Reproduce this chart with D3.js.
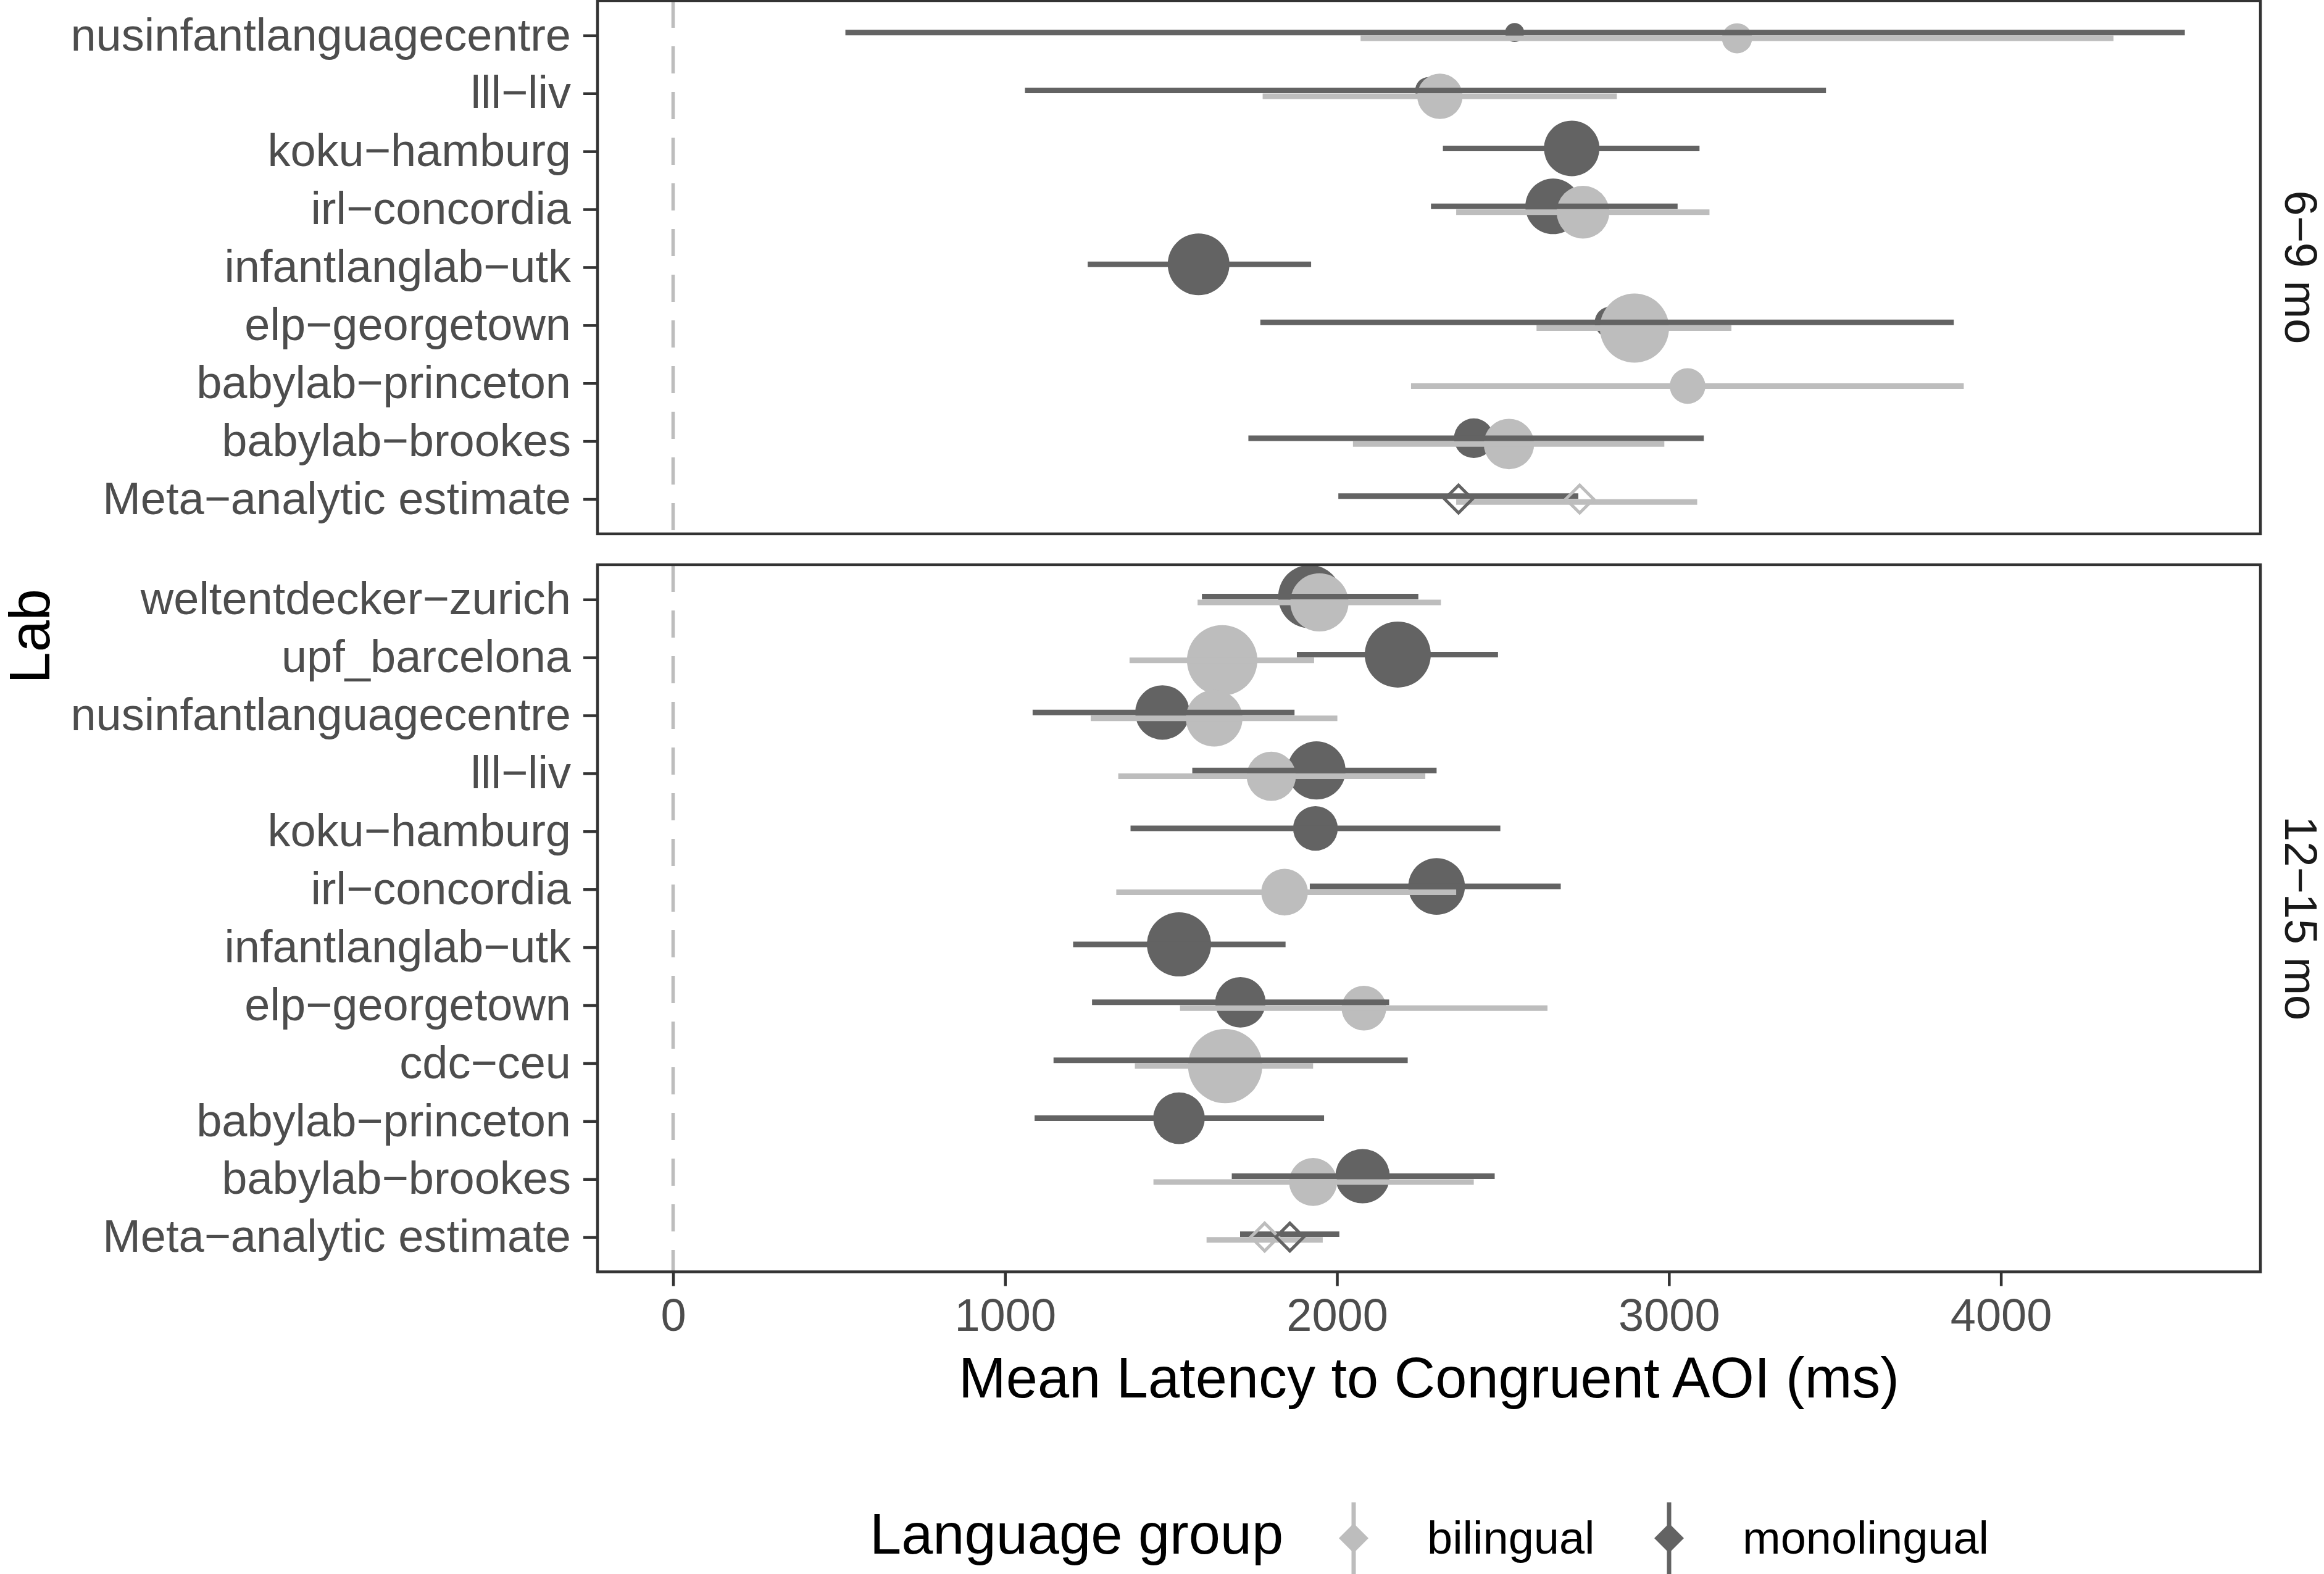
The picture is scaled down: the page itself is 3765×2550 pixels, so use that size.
<!DOCTYPE html>
<html>
<head>
<meta charset="utf-8">
<script src="https://cdn.jsdelivr.net/npm/d3@7"></script>
<style>
  body { margin: 0; background: #fff; }
  svg { display: block; font-family: "Liberation Sans", Arial, Helvetica, sans-serif; }
</style>
</head>
<body>
<svg id="chart"></svg>
<script>
// ---- data ----
const groups = ["bilingual", "monolingual"];
const ageGroups = ["6\u22129 mo", "12\u221215 mo"];

const labs69 = ["nusinfantlanguagecentre", "lll\u2212liv", "koku\u2212hamburg", "irl\u2212concordia",
  "infantlanglab\u2212utk", "elp\u2212georgetown", "babylab\u2212princeton", "babylab\u2212brookes",
  "Meta\u2212analytic estimate"];
const mono69Est = [2535, 2276, 2707, 2651, 1583, 2823, null, 2412, 2366];
const mono69Lo  = [519, 1060, 2319, 2283, 1249, 1769, null, 1733, 2004];
const mono69Hi  = [4554, 3473, 3092, 3026, 1922, 3858, null, 3105, 2727];
const mono69N   = [6, 12, 51, 51, 63, 16, null, 26, null];
const bi69Est = [3205, 2310, null, 2741, null, 2896, 3056, 2518, 2731];
const bi69Lo  = [2071, 1776, null, 2359, null, 2601, 2223, 2048, 2359];
const bi69Hi  = [4339, 2843, null, 3122, null, 3188, 3888, 2986, 3085];
const bi69N   = [15, 34, null, 46, null, 79, 21, 42, null];

const labs1215 = ["weltentdecker\u2212zurich", "upf_barcelona", "nusinfantlanguagecentre", "lll\u2212liv",
  "koku\u2212hamburg", "irl\u2212concordia", "infantlanglab\u2212utk", "elp\u2212georgetown", "cdc\u2212ceu",
  "babylab\u2212princeton", "babylab\u2212brookes", "Meta\u2212analytic estimate"];
const mono1215Est = [1918, 2183, 1474, 1938, 1935, 2300, 1524, 1709, 1680, 1524, 2077, 1858];
const mono1215Lo  = [1593, 1879, 1083, 1564, 1378, 1918, 1205, 1262, 1146, 1089, 1683, 1708];
const mono1215Hi  = [2245, 2485, 1872, 2300, 2492, 2674, 1845, 2157, 2213, 1961, 2475, 2007];
const mono1215N   = [66, 72, 49, 56, 33, 53, 68, 42, 40, 44, 49, null];
const bi1215Est = [1947, 1654, 1630, 1802, null, 1842, null, 2081, 1663, null, 1928, 1782];
const bi1215Lo  = [1580, 1375, 1258, 1341, null, 1335, null, 1527, 1391, null, 1447, 1607];
const bi1215Hi  = [2313, 1931, 2001, 2266, null, 2359, null, 2634, 1928, null, 2412, 1957];
const bi1215N   = [56, 82, 53, 40, null, 36, null, 33, 91, null, 38, null];

const xTicks = [0, 1000, 2000, 3000, 4000];

function buildRows(labs, mono, bi) {
  const rows = [];
  labs.forEach((lab, i) => {
    if (bi.est[i] != null)
      rows.push({ lab, group: "bilingual", est: bi.est[i], lo: bi.lo[i], hi: bi.hi[i], n: bi.n[i] });
    if (mono.est[i] != null)
      rows.push({ lab, group: "monolingual", est: mono.est[i], lo: mono.lo[i], hi: mono.hi[i], n: mono.n[i] });
  });
  return rows;
}

const panels = [
  { name: ageGroups[0], labs: labs69,
    rows: buildRows(labs69, { est: mono69Est, lo: mono69Lo, hi: mono69Hi, n: mono69N },
                            { est: bi69Est, lo: bi69Lo, hi: bi69Hi, n: bi69N }) },
  { name: ageGroups[1], labs: labs1215,
    rows: buildRows(labs1215, { est: mono1215Est, lo: mono1215Lo, hi: mono1215Hi, n: mono1215N },
                              { est: bi1215Est, lo: bi1215Lo, hi: bi1215Hi, n: bi1215N }) }
];

function drawChart(svg, dimensions) {
  const { width, height } = dimensions;
  const panelLeft = 968;
  const panelRight = 3662;
  const step = 93.9;
  const panelGap = 50;
  const dodge = 4.7;
  const axisFont = 74;
  const titleFont = 92;

  const colour = d3.scaleOrdinal().domain(groups).range(["#bdbdbd", "#636363"]);
  const dodgeY = (g) => (g === "monolingual" ? -dodge : dodge);

  // x scale: data range (incl. the 0 reference line) with 5% expansion
  const allVals = [0];
  panels.forEach((p) => p.rows.forEach((d) => allVals.push(d.lo, d.hi)));
  const [xmin, xmax] = d3.extent(allVals);
  const pad = (xmax - xmin) * 0.05;
  const x = d3.scaleLinear().domain([xmin - pad, xmax + pad]).range([panelLeft, panelRight]);

  const radius = d3.scaleSqrt().domain([0, 100]).range([0, 63]);

  svg.attr("width", width).attr("height", height);
  svg.append("rect").attr("width", width).attr("height", height).attr("fill", "#fff");

  let top = 1;
  panels.forEach((p, pi) => {
    const h = (p.labs.length - 1 + 1.2) * step;
    p.top = top;
    p.bottom = top + h;
    top = p.bottom + panelGap;

    const y = d3.scalePoint().domain(p.labs)
      .range([p.top + 0.6 * step, p.bottom - 0.6 * step]);

    const g = svg.append("g");
    const clipId = "clip" + pi;
    g.append("clipPath").attr("id", clipId)
      .append("rect")
      .attr("x", panelLeft).attr("y", p.top)
      .attr("width", panelRight - panelLeft).attr("height", h);

    const plot = g.append("g").attr("clip-path", `url(#${clipId})`);

    // reference line at 0
    plot.append("line")
      .attr("x1", x(0)).attr("x2", x(0))
      .attr("y1", p.top).attr("y2", p.bottom)
      .attr("stroke", "#bdbdbd")
      .attr("stroke-width", 5.5)
      .attr("stroke-dasharray", "44,30");

    const isMeta = (d) => d.lab.startsWith("Meta");

    // lab estimates (monolingual first so bilingual sits on top)
    const pts = p.rows.filter((d) => !isMeta(d))
      .sort((a, b) => (a.group === "monolingual" ? -1 : 1) - (b.group === "monolingual" ? -1 : 1));
    plot.selectAll("circle.pt")
      .data(pts)
      .enter()
      .append("circle")
      .attr("class", "pt")
      .attr("cx", (d) => x(d.est))
      .attr("cy", (d) => y(d.lab) + dodgeY(d.group))
      .attr("r", (d) => radius(d.n))
      .attr("fill", (d) => colour(d.group));

    // confidence intervals
    plot.selectAll("line.ci")
      .data(p.rows)
      .enter()
      .append("line")
      .attr("class", "ci")
      .attr("x1", (d) => x(d.lo))
      .attr("x2", (d) => x(d.hi))
      .attr("y1", (d) => y(d.lab) + dodgeY(d.group))
      .attr("y2", (d) => y(d.lab) + dodgeY(d.group))
      .attr("stroke", (d) => colour(d.group))
      .attr("stroke-width", 9);

    // meta-analytic estimates: hollow diamonds
    plot.selectAll("path.meta")
      .data(p.rows.filter(isMeta))
      .enter()
      .append("path")
      .attr("class", "meta")
      .attr("d", d3.symbol(d3.symbolSquare, 1012))
      .attr("transform", (d) => `translate(${x(d.est)},${y(d.lab)}) rotate(45)`)
      .attr("fill", "none")
      .attr("stroke", (d) => colour(d.group))
      .attr("stroke-width", 5);

    // panel border
    g.append("rect")
      .attr("x", panelLeft).attr("y", p.top)
      .attr("width", panelRight - panelLeft).attr("height", h)
      .attr("fill", "none")
      .attr("stroke", "#333333")
      .attr("stroke-width", 4.5);

    // y axis
    const yAxis = g.append("g")
      .attr("transform", `translate(${panelLeft},0)`)
      .call(d3.axisLeft(y).tickSize(23).tickPadding(20));
    yAxis.select(".domain").remove();
    yAxis.selectAll(".tick line").attr("stroke", "#333333").attr("stroke-width", 4.5);
    yAxis.selectAll(".tick text")
      .attr("font-size", axisFont)
      .attr("font-family", null)
      .attr("fill", "#4d4d4d");

    // strip label
    g.append("text")
      .attr("transform", `translate(${panelRight + 66},${(p.top + p.bottom) / 2}) rotate(90)`)
      .attr("text-anchor", "middle")
      .attr("dy", "0.35em")
      .attr("font-size", axisFont)
      .attr("fill", "#1a1a1a")
      .text(p.name);
  });

  const plotTop = panels[0].top;
  const plotBottom = panels[panels.length - 1].bottom;

  // x axis
  const xAxis = svg.append("g")
    .attr("transform", `translate(0,${plotBottom})`)
    .call(d3.axisBottom(x).tickValues(xTicks).tickFormat(d3.format("d")).tickSize(23).tickPadding(20));
  xAxis.select(".domain").remove();
  xAxis.selectAll(".tick line").attr("stroke", "#333333").attr("stroke-width", 4.5);
  xAxis.selectAll(".tick text")
    .attr("font-size", axisFont)
    .attr("font-family", null)
    .attr("fill", "#4d4d4d");

  // axis titles
  svg.append("text")
    .attr("x", (panelLeft + panelRight) / 2)
    .attr("y", 2264)
    .attr("text-anchor", "middle")
    .attr("font-size", titleFont)
    .attr("fill", "#000")
    .text("Mean Latency to Congruent AOI (ms)");

  svg.append("text")
    .attr("transform", `translate(80,${(plotTop + plotBottom) / 2}) rotate(-90)`)
    .attr("text-anchor", "middle")
    .attr("font-size", titleFont)
    .attr("fill", "#000")
    .text("Lab");

  // legend
  const legend = svg.append("g");
  legend.append("text")
    .attr("x", 1409).attr("y", 2517)
    .attr("font-size", titleFont)
    .attr("fill", "#000")
    .text("Language group");

  const keyX = [2193, 2704];
  groups.forEach((grp, i) => {
    legend.append("line")
      .attr("x1", keyX[i]).attr("x2", keyX[i])
      .attr("y1", 2434).attr("y2", height)
      .attr("stroke", colour(grp))
      .attr("stroke-width", 7);
    legend.append("path")
      .attr("d", d3.symbol(d3.symbolSquare, 1152))
      .attr("transform", `translate(${keyX[i]},2492) rotate(45)`)
      .attr("fill", colour(grp));
    legend.append("text")
      .attr("x", keyX[i] + 119).attr("y", 2517)
      .attr("font-size", axisFont)
      .attr("fill", "#000")
      .text(grp);
  });
}

drawChart(d3.select("#chart"), { width: 3765, height: 2550 });
</script>
</body>
</html>
